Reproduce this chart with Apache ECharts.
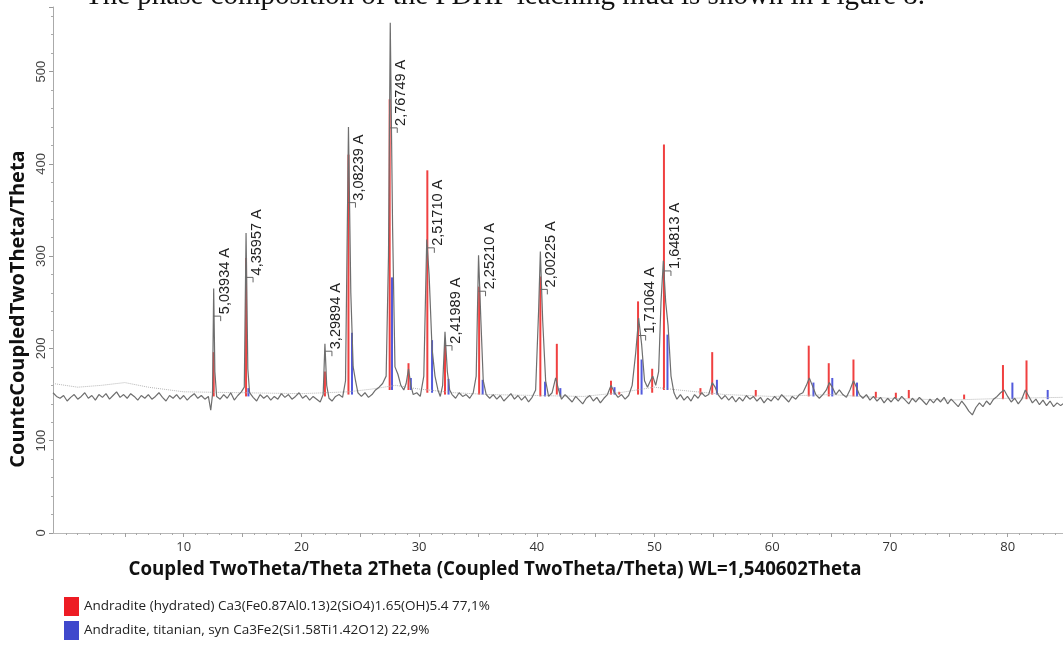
<!DOCTYPE html>
<html>
<head>
<meta charset="utf-8">
<script src="https://cdn.jsdelivr.net/npm/echarts@6/dist/echarts.min.js"></script>
<style>
html,body{margin:0;padding:0;background:#fff;}
#chart{width:1063px;height:645px;}
</style>
</head>
<body>
<div id="chart"></div>
<script>
// ---- Data ----
// Measured pattern: [2Theta, counts]
const measured = [
[-1.1,152],[-0.8,148],[-0.5,146],[-0.2,149],[0.1,143],[0.4,147],[0.7,150],[1.0,145],[1.3,148],[1.6,152],
[1.9,146],[2.2,149],[2.5,144],[2.8,150],[3.1,147],[3.4,151],[3.7,145],[4.0,149],[4.3,153],[4.6,147],
[4.9,150],[5.2,146],[5.5,151],[5.8,148],[6.1,144],[6.4,149],[6.7,146],[7.0,150],[7.3,145],[7.6,148],
[7.9,152],[8.2,147],[8.5,143],[8.8,149],[9.1,146],[9.4,150],[9.7,145],[10.0,149],[10.3,144],[10.6,148],
[10.9,151],[11.2,146],[11.5,149],[11.8,145],[12.1,148],[12.3,133],[12.45,150],[12.55,265],[12.65,175],[12.8,148],
[13.1,145],[13.4,150],[13.7,146],[14.0,152],[14.3,144],[14.6,149],[14.9,153],[15.15,158],[15.3,325],[15.45,178],
[15.6,152],[15.9,147],[16.2,143],[16.5,150],[16.8,146],[17.1,149],[17.4,144],[17.7,148],[18.0,145],[18.3,151],
[18.6,147],[18.9,150],[19.2,145],[19.5,148],[19.8,152],[20.1,146],[20.4,149],[20.7,144],[21.0,148],[21.3,145],
[21.6,142],[21.85,150],[22.0,205],[22.15,160],[22.35,146],[22.6,143],[22.9,148],[23.2,150],[23.5,147],[23.75,165],
[24.0,440],[24.2,260],[24.4,180],[24.6,165],[24.8,152],[25.1,148],[25.4,152],[25.7,147],[26.0,150],[26.3,155],
[26.6,158],[26.9,162],[27.2,170],[27.4,300],[27.55,553],[27.75,330],[27.95,180],[28.2,172],[28.45,160],[28.7,155],
[28.9,162],[29.1,178],[29.3,160],[29.5,150],[29.8,152],[30.1,148],[30.4,170],[30.65,318],[30.85,280],[31.1,200],
[31.35,170],[31.6,155],[31.8,148],[32.0,160],[32.2,218],[32.4,175],[32.6,155],[32.8,150],[33.1,146],[33.4,152],
[33.7,148],[34.0,150],[34.3,146],[34.6,152],[34.85,170],[35.05,301],[35.25,230],[35.45,165],[35.7,150],[36.0,146],
[36.3,150],[36.6,145],[36.9,149],[37.2,143],[37.5,147],[37.8,151],[38.1,145],[38.4,149],[38.7,144],[39.0,148],
[39.3,142],[39.6,147],[39.9,155],[40.15,240],[40.3,305],[40.5,230],[40.75,165],[41.0,148],[41.3,152],[41.6,168],
[41.85,155],[42.1,145],[42.4,150],[42.7,146],[43.0,142],[43.3,148],[43.6,144],[43.9,140],[44.2,146],[44.5,149],
[44.8,143],[45.1,147],[45.4,141],[45.7,146],[46.0,150],[46.3,160],[46.6,152],[46.9,147],[47.2,150],[47.5,145],
[47.8,149],[48.1,160],[48.4,195],[48.65,233],[48.9,205],[49.15,165],[49.4,158],[49.65,165],[49.85,170],[50.1,160],
[50.35,175],[50.55,250],[50.75,295],[50.95,250],[51.15,225],[51.4,170],[51.65,152],[51.9,145],[52.2,150],[52.5,144],
[52.8,148],[53.1,143],[53.4,150],[53.7,146],[54.0,152],[54.3,148],[54.6,150],[54.9,163],[55.15,158],[55.4,150],
[55.7,145],[56.0,149],[56.3,144],[56.6,148],[56.9,142],[57.2,147],[57.5,143],[57.8,149],[58.1,145],[58.4,148],
[58.7,143],[59.0,147],[59.3,141],[59.6,146],[59.9,143],[60.2,148],[60.5,144],[60.8,150],[61.1,146],[61.4,142],
[61.7,148],[62.0,145],[62.3,150],[62.6,152],[62.9,160],[63.15,168],[63.4,160],[63.7,150],[64.0,146],[64.3,150],
[64.6,155],[64.85,163],[65.1,158],[65.4,150],[65.7,155],[66.0,150],[66.3,147],[66.6,155],[66.9,165],[67.15,158],
[67.4,150],[67.7,146],[68.0,150],[68.3,144],[68.6,148],[68.9,143],[69.2,147],[69.5,141],[69.8,146],[70.1,142],
[70.4,147],[70.7,143],[71.0,148],[71.3,144],[71.6,140],[71.9,146],[72.2,142],[72.5,147],[72.8,143],[73.1,139],
[73.4,145],[73.7,141],[74.0,146],[74.3,142],[74.6,147],[74.9,140],[75.2,145],[75.5,141],[75.8,137],[76.1,143],
[76.4,138],[76.7,132],[77.0,128],[77.3,136],[77.6,141],[77.9,137],[78.2,143],[78.5,139],[78.8,145],[79.1,148],
[79.4,152],[79.7,155],[80.0,148],[80.3,142],[80.6,146],[80.9,140],[81.2,145],[81.5,155],[81.8,148],[82.1,141],
[82.4,145],[82.7,139],[83.0,144],[83.3,138],[83.6,143],[83.9,137],[84.2,141],[84.5,138],[84.7,140]
];
// Background curve (dotted)
const background = [
[-1.1,162],[1,158],[3,160],[5,163],[7,158],[10,153],[15,152],[20,151],[24,153],[26,156],[28,160],
[30,156],[33,152],[36,150],[40,149],[44,148],[47,152],[50,158],[52,155],[56,150],[60,148],[65,150],
[70,146],[75,144],[80,146],[84.7,147]
];
// Stick patterns: [2Theta, base counts, top counts]
const redSticks = [
[12.55,148,196],[15.3,148,298],[22.0,148,175],[24.0,150,410],[27.5,155,470],[29.1,155,184],
[30.7,152,393],[32.2,150,206],[35.1,150,267],[40.3,148,278],[41.7,150,205],[46.3,150,165],
[47.0,150,153],[48.6,150,251],[49.8,152,178],[50.8,155,421],[53.9,150,157],[54.9,150,196],
[58.6,148,155],[63.1,148,203],[64.8,148,184],[66.9,148,188],[68.8,146,153],[70.5,146,152],
[71.6,146,155],[76.3,145,150],[79.6,145,182],[81.6,145,187]
];
const blueSticks = [
[15.5,148,157],[24.3,150,217],[27.7,155,277],[29.3,155,168],[31.1,152,209],[32.5,150,167],
[35.4,150,166],[40.7,148,164],[42.0,148,157],[46.6,150,158],[48.9,150,188],[51.1,155,215],
[55.3,150,166],[63.5,148,163],[65.1,148,168],[67.2,148,163],[80.4,145,163],[83.4,145,155]
];
// Peak labels: [2Theta, counts at bracket, text]
const peakLabels = [
[12.55,235,'5,03934 A'],[15.3,277,'4,35957 A'],[22.0,197,'3,29894 A'],[24.0,358,'3,08239 A'],
[27.55,439,'2,76749 A'],[30.7,309,'2,51710 A'],[32.2,203,'2,41989 A'],[35.05,262,'2,25210 A'],
[40.3,264,'2,00225 A'],[48.65,214,'1,71064 A'],[50.8,284,'1,64813 A']
];
const xLabelValues = [10,20,30,40,50,60,70,80];
const xMinorTicks = [0,1,2,3,4,6,7,8,9,11,12,13,14,16,17,18,19,21,22,23,24,26,27,28,29,31,32,33,34,36,37,38,39,41,42,43,44,46,47,48,49,51,52,53,54,56,57,58,59,61,62,63,64,66,67,68,69,71,72,73,74,76,77,78,79,81,82,83,84];
const xMajorTicks = [5,10,15,20,25,30,35,40,45,50,55,60,65,70,75,80];
const legendRed = 'Andradite (hydrated) Ca3(Fe0.87Al0.13)2(SiO4)1.65(OH)5.4 77,1%';
const legendBlue = 'Andradite, titanian, syn Ca3Fe2(Si1.58Ti1.42O12) 22,9%';
const xTitle = 'Coupled TwoTheta/Theta 2Theta (Coupled TwoTheta/Theta) WL=1,540602Theta';
const yTitle = 'CounteCoupledTwoTheta/Theta';
const topText = 'The phase composition of the PDHP leaching mud is shown in Figure 8.';

const chart = echarts.init(document.getElementById('chart'), null, {renderer:'canvas'});

function stickRenderer(color){
  return function(params, api){
    const p0 = api.coord([api.value(0), api.value(1)]);
    const p1 = api.coord([api.value(0), api.value(2)]);
    return {type:'line', shape:{x1:p0[0],y1:p0[1],x2:p1[0],y2:p1[1]},
      style:{stroke:color, lineWidth:2, opacity:0.9}};
  };
}

const option = {
  animation:false,
  backgroundColor:'#ffffff',
  grid:{left:53, right:0, top:7, bottom:112, containLabel:false},
  xAxis:[{
    type:'value', min:-1.1, max:84.7,
    axisLine:{onZero:false, lineStyle:{color:'#b8b8b8', width:1}},
    axisTick:{show:true, customValues:xMinorTicks, length:2, inside:false, lineStyle:{color:'#a8a8a8'}},
    axisLabel:{customValues:xLabelValues, color:'#333', fontSize:13, margin:8, fontFamily:'Open Sans'},
    splitLine:{show:false}
  },{
    type:'value', min:-1.1, max:84.7, position:'bottom',
    axisLine:{show:false, onZero:false},
    axisTick:{show:true, customValues:xMajorTicks, length:4, lineStyle:{color:'#a0a0a0'}},
    axisLabel:{show:false},
    splitLine:{show:false}
  }],
  yAxis:{
    type:'value', min:0, max:570, interval:100,
    axisLine:{show:true, onZero:false, lineStyle:{color:'#aaaaaa'}},
    axisTick:{show:true, length:4, lineStyle:{color:'#999'}},
    minorTick:{show:true, splitNumber:5, length:2, lineStyle:{color:'#aaa'}},
    axisLabel:{rotate:90, color:'#444', fontSize:13, margin:5, fontFamily:'Liberation Sans', showMaxLabel:false},
    splitLine:{show:false}
  },
  legend:{
    orient:'vertical', left:64, top:597, padding:0, itemWidth:15, itemHeight:19, itemGap:5,
    icon:'rect',
    textStyle:{fontSize:13.5, color:'#222', fontFamily:'Open Sans'},
    data:[{name:legendRed, itemStyle:{color:'#ed1c24'}},{name:legendBlue, itemStyle:{color:'#3f48cc'}}]
  },
  graphic:[
    {type:'text', x:495, y:570, silent:true,
     style:{text:xTitle, fill:'#111', font:'bold 18.7px "Open Sans"', textAlign:'center', textVerticalAlign:'middle'}},
    {type:'text', x:18, y:309, rotation:Math.PI/2, silent:true,
     style:{text:yTitle, fill:'#111', font:'bold 20px "Open Sans"', textAlign:'center', textVerticalAlign:'middle'}},
    {type:'text', x:85, y:11, silent:true,
     style:{text:topText, fill:'#111', font:'29px "Liberation Serif"', textAlign:'left', textVerticalAlign:'bottom'}}
  ],
  series:[
    {type:'custom', name:legendRed, coordinateSystem:'cartesian2d', xAxisIndex:0, yAxisIndex:0,
     itemStyle:{color:'#ed1c24'}, encode:{x:0, y:[1,2]}, renderItem:stickRenderer('#ee2b2b'),
     data:redSticks, z:2, clip:true},
    {type:'custom', name:legendBlue, coordinateSystem:'cartesian2d', xAxisIndex:0, yAxisIndex:0,
     itemStyle:{color:'#3f48cc'}, encode:{x:0, y:[1,2]}, renderItem:stickRenderer('#3f48d8'),
     data:blueSticks, z:2, clip:true},
    {type:'line', name:'background', data:background, showSymbol:false, symbol:'none',
     lineStyle:{color:'#b5b5b5', width:1, type:'dotted'}, z:3, silent:true},
    {type:'line', name:'measured', data:measured, showSymbol:false, symbol:'none',
     lineStyle:{color:'#6e6e6e', width:1.2}, z:4, silent:true},
    {type:'custom', name:'labels', coordinateSystem:'cartesian2d', encode:{x:0, y:1}, z:5, silent:true,
     data:peakLabels,
     renderItem:function(params, api){
       const p = api.coord([api.value(0), api.value(1)]);
       const txt = peakLabels[params.dataIndex][2];
       return {type:'group', children:[
         {type:'polyline', shape:{points:[[p[0],p[1]],[p[0]+7,p[1]],[p[0]+7,p[1]+5]]},
          style:{stroke:'#666', lineWidth:1, fill:null}},
         {type:'text', x:p[0]+11, y:p[1]-2, rotation:Math.PI/2,
          style:{text:txt, fill:'#222', font:'14.5px "Liberation Sans"', textAlign:'left', textVerticalAlign:'middle'}}
       ]};
     }}
  ]
};
chart.setOption(option);
</script>
</body>
</html>
